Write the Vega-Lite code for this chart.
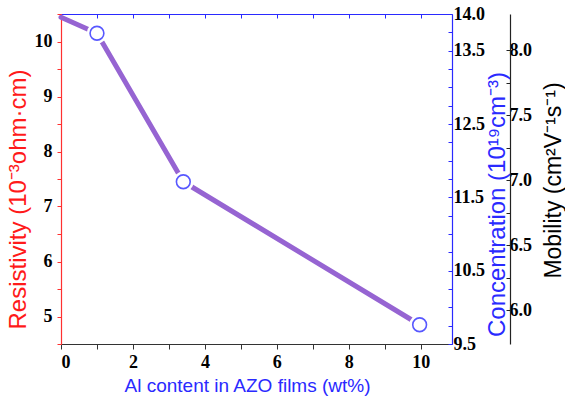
{
  "$schema": "https://vega.github.io/schema/vega-lite/v6.json",
  "autosize": "none",
  "width": 391,
  "height": 330,
  "padding": {"left": 61, "top": 14, "right": 113, "bottom": 60},
  "background": "white",
  "config": {"view": {"stroke": null}},
  "data": {"values": [
    {"Al": 0, "Res": 10.44},
    {"Al": 1.0, "Res": 10.15},
    {"Al": 3.4, "Res": 7.45},
    {"Al": 9.97, "Res": 4.85}
  ]},
  "resolve": {"scale": {"y": "independent"}, "axis": {"x": "independent", "y": "independent"}},
  "layer": [
    {
      "resolve": {"axis": {"x": "independent", "y": "independent"}},
      "layer": [
        {
          "mark": {"type": "line", "color": "#9664d2", "strokeWidth": 5, "strokeCap": "round", "strokeJoin": "round"},
          "encoding": {
            "x": {"field": "Al", "type": "quantitative", "scale": {"domain": [0, 10.87], "nice": false, "zero": false},
              "axis": {"orient": "bottom", "values": [0,1,2,3,4,5,6,7,8,9,10], "labelExpr": "datum.value % 2 === 0 ? format(datum.value, 'd') : ''",
                "grid": false, "domainColor": "#333333", "domainWidth": 1.2, "tickColor": "#333333", "tickSize": 5, "labelOverlap": false,
                "labelFont": "Liberation Serif", "labelFontWeight": "bold", "labelFontSize": 18, "labelColor": "black", "labelPadding": 4,
                "title": "Al content in AZO films (wt%)", "titleFont": "Liberation Sans", "titleFontWeight": "normal", "titleFontSize": 19,
                "titleColor": "#2a2aff", "titleX": 186, "titleY": 41, "titleBaseline": "middle", "titleAlign": "center"}},
            "y": {"field": "Res", "type": "quantitative", "scale": {"domain": [4.5, 10.5], "nice": false, "zero": false},
              "axis": {"orient": "left", "values": [4.5,5,5.5,6,6.5,7,7.5,8,8.5,9,9.5,10,10.5],
                "labelExpr": "datum.value == round(datum.value) ? format(datum.value, 'd') : ''", "labelOverlap": false,
                "grid": false, "domainColor": "#ff3030", "domainWidth": 1.2, "tickColor": "#ff3030", "tickSize": 4,
                "labelFont": "Liberation Serif", "labelFontWeight": "bold", "labelFontSize": 18, "labelColor": "black", "labelPadding": 5,
                "title": "Resistivity (10⁻³ohm·cm)", "titleFont": "Liberation Sans", "titleFontWeight": "normal", "titleFontSize": 24,
                "titleColor": "#ff1a1a", "titleX": -43, "titleY": 185, "titleAngle": -90, "titleBaseline": "middle", "titleAlign": "center"}}
          }
        },
        {
          "transform": [{"filter": "datum.Al > 0"}],
          "mark": {"type": "point", "shape": "circle", "filled": true, "color": "white", "opacity": 1, "size": 420},
          "encoding": {
            "x": {"field": "Al", "type": "quantitative", "scale": {"domain": [0, 10.87], "nice": false, "zero": false}, "axis": null},
            "y": {"field": "Res", "type": "quantitative", "scale": {"domain": [4.5, 10.5], "nice": false, "zero": false}, "axis": null}
          }
        },
        {
          "transform": [{"filter": "datum.Al > 0"}],
          "mark": {"type": "point", "shape": "circle", "filled": false, "fill": "white", "stroke": "#5858ff", "strokeWidth": 1.6, "opacity": 1, "size": 190},
          "encoding": {
            "x": {"field": "Al", "type": "quantitative", "scale": {"domain": [0, 10.87], "nice": false, "zero": false}, "axis": null},
            "y": {"field": "Res", "type": "quantitative", "scale": {"domain": [4.5, 10.5], "nice": false, "zero": false}, "axis": null}
          }
        }
      ]
    },
    {
      "mark": {"type": "point", "opacity": 0},
      "encoding": {
        "x": {"field": "Al", "type": "quantitative", "scale": {"domain": [0, 10.87], "nice": false, "zero": false},
          "axis": {"orient": "top", "values": [0,1,2,3,4,5,6,7,8,9,10], "labels": false, "title": null, "grid": false,
            "domainColor": "#2a2aff", "domainWidth": 1.2, "tickColor": "#2a2aff", "tickSize": -4}},
        "y": {"datum": 12, "type": "quantitative", "scale": {"domain": [9.5, 14.0], "nice": false, "zero": false},
          "axis": {"orient": "right", "values": [9.5,9.75,10,10.25,10.5,10.75,11,11.25,11.5,11.75,12,12.25,12.5,12.75,13,13.25,13.5,13.75,14],
            "labelExpr": "indexof([9.5,10.5,11.5,12.5,13.5,14], datum.value) >= 0 ? format(datum.value, '.1f') : ''", "labelOverlap": false,
            "grid": false, "domainColor": "#2a2aff", "domainWidth": 1.2, "tickColor": "#2a2aff", "tickSize": -4,
            "labelFont": "Liberation Serif", "labelFontWeight": "bold", "labelFontSize": 18, "labelColor": "black", "labelPadding": 5,
            "title": "Concentration (10¹⁹cm⁻³)", "titleFont": "Liberation Sans", "titleFontWeight": "normal", "titleFontSize": 24,
            "titleColor": "#2a2aff", "titleX": 45, "titleY": 190, "titleAngle": -90, "titleBaseline": "middle", "titleAlign": "center"}}
      }
    },
    {
      "mark": {"type": "point", "opacity": 0},
      "encoding": {
        "y": {"datum": 7, "type": "quantitative", "scale": {"domain": [5.74, 8.28], "nice": false, "zero": false},
          "axis": {"orient": "right", "offset": 58, "values": [6,6.25,6.5,6.75,7,7.25,7.5,7.75,8],
            "labelExpr": "datum.value % 0.5 === 0 ? format(datum.value, '.1f') : ''", "labelOverlap": false,
            "grid": false, "domainColor": "#222222", "domainWidth": 1.2, "tickColor": "#222222", "tickSize": -4,
            "labelFont": "Liberation Serif", "labelFontWeight": "bold", "labelFontSize": 18, "labelColor": "black", "labelPadding": 3,
            "title": "Mobility (cm²V⁻¹s⁻¹)", "titleFont": "Liberation Sans", "titleFontWeight": "normal", "titleFontSize": 23,
            "titleColor": "black", "titleX": 43, "titleY": 166, "titleAngle": -90, "titleBaseline": "middle", "titleAlign": "center"}}
      }
    }
  ]
}
